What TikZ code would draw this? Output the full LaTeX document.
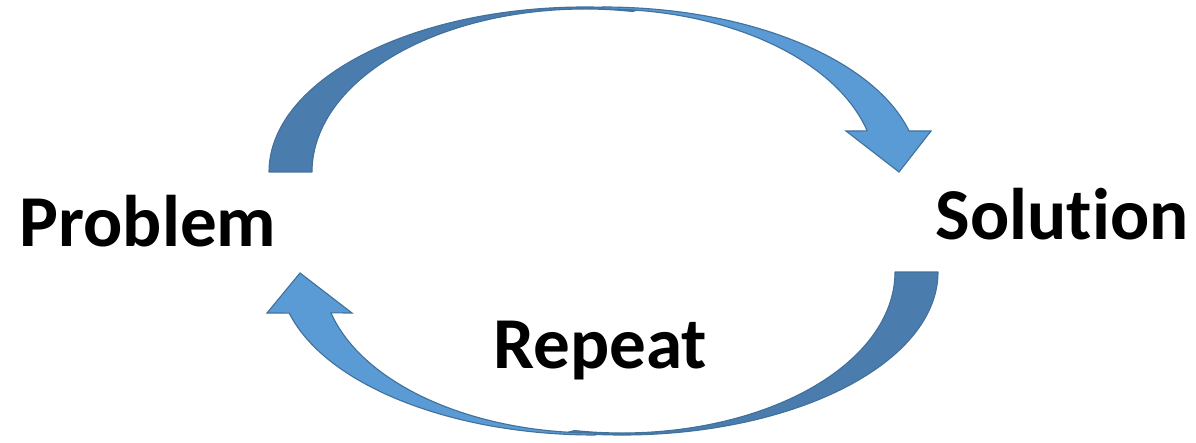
\documentclass[tikz,border=0pt]{standalone}
\usepackage{fontspec}
\setmainfont{Carlito}[Ligatures=NoCommon]
\usepackage{tikz}
\definecolor{BandBack} {HTML}{4A7DAD}
\definecolor{BandFront}{HTML}{5B9BD5}
\definecolor{BandEdge} {HTML}{41719C}
\definecolor{Ink}      {HTML}{000000}

\begin{document}
\begin{tikzpicture}[x=0.025cm, y=0.025cm,
  back/.style={fill=BandBack, draw=BandEdge, line width=0.8pt, line join=round},
  front/.style={fill=BandFront, draw=BandEdge, line width=0.8pt, line join=miter},
  word/.style={font=\fontsize{52}{60}\selectfont\bfseries, text=Ink,
               inner sep=0pt, anchor=base}]
  \useasboundingbox (0,0) rectangle (1196,442);
  % Top arrow: back of the band, then the front with its head
  \draw[back, shift={(585,270)}]
    (180:316 and 165) arc[start angle=180, end angle=80, x radius=316, y radius=165]
    -- (80:273 and 163) arc[start angle=80, end angle=180, x radius=273, y radius=163]
    -- cycle;
  \draw[front, shift={(603,270)}]
    (90:316 and 165) arc[start angle=90, end angle=14.4, x radius=316, y radius=165]
    -- (328,41) -- (296,0) -- (243,41)
    -- (14.6:273 and 163) arc[start angle=14.6, end angle=90, x radius=273, y radius=163]
    -- cycle;
  % Bottom arrow, same build turned round
  \draw[back, shift={(622,170)}]
    (0:316 and 163) arc[start angle=0, end angle=-100, x radius=316, y radius=163]
    -- (-100:273 and 161) arc[start angle=-100, end angle=0, x radius=273, y radius=161]
    -- cycle;
  \draw[front, shift={(595,170)}]
    (270:316 and 163) arc[start angle=270, end angle=194.6, x radius=316, y radius=163]
    -- (-328,-41) -- (-295,-1) -- (-243,-41)
    -- (194.7:273 and 161) arc[start angle=194.7, end angle=270, x radius=273, y radius=161]
    -- cycle;
  % Labels
  \node[word] (problem)  at (148,196)  {Problem};
  \node[word] (solution) at (1062,203) {Solution};
  \node[word] (repeat)   at (600,74)   {Repeat};
\end{tikzpicture}
\end{document}
